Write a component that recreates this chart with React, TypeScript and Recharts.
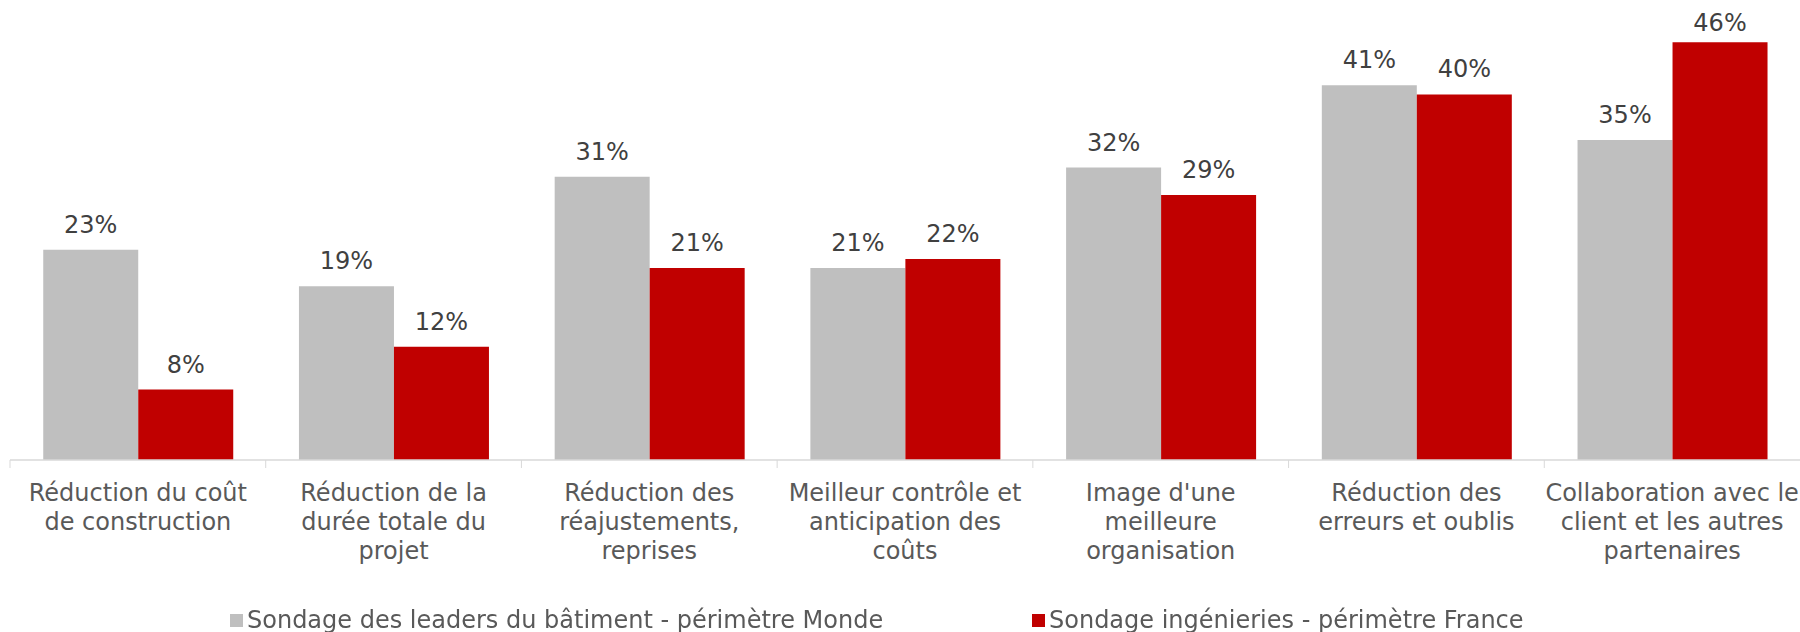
import React from 'react';
import { BarChart, Bar, XAxis, YAxis, Legend, LabelList } from 'recharts';

const categories = [
  'Réduction du coût\nde construction',
  'Réduction de la\ndurée totale du\nprojet',
  'Réduction des\nréajustements,\nreprises',
  'Meilleur contrôle et\nanticipation des\ncoûts',
  "Image d'une\nmeilleure\norganisation",
  'Réduction des\nerreurs et oublis',
  'Collaboration avec le\nclient et les autres\npartenaires',
];

const mondeValues = [23, 19, 31, 21, 32, 41, 35];
const franceValues = [7.7, 12.4, 21, 22, 29, 40, 45.7];

const seriesNames = [
  'Sondage des leaders du bâtiment - périmètre Monde',
  'Sondage ingénieries - périmètre France',
];

const data = categories.map((name, i) => ({
  name,
  monde: mondeValues[i],
  france: franceValues[i],
}));

const FONT = '"DejaVu Sans", Verdana, sans-serif';
const GRAY = '#bfbfbf';
const RED = '#c00000';
const AXIS = '#d9d9d9';

function CategoryTick(props: any) {
  const { x, y, payload } = props;
  const half = payload?.offset ?? 0;
  const lines = String(payload.value).split('\n');
  return (
    <g>
      <line x1={x - half} x2={x - half} y1={y} y2={y + 8} stroke={AXIS} strokeWidth={1} />
      <text x={x} y={y + 41} textAnchor="middle" fill="#595959" fontSize={24} fontFamily={FONT}>
        {lines.map((line, i) => (
          <tspan key={i} x={x} dy={i === 0 ? 0 : 29}>
            {line}
          </tspan>
        ))}
      </text>
    </g>
  );
}

// value label above the bar, kept inside the chart like Excel does
function ValueLabel(props: any) {
  const { x, y, width, value } = props;
  const baseline = Math.max(y - 17, 31);
  return (
    <text
      x={x + width / 2}
      y={baseline}
      textAnchor="middle"
      fill="#404040"
      fontSize={24}
      fontFamily={FONT}
    >
      {`${Math.round(Number(value))}%`}
    </text>
  );
}

function LegendContent() {
  const colors = [GRAY, RED];
  return (
    <div
      style={{
        display: 'flex',
        paddingTop: 4,
        paddingLeft: 230,
        fontFamily: FONT,
        fontSize: 24,
        color: '#595959',
        lineHeight: '28px',
      }}
    >
      {seriesNames.map((name, i) => (
        <div key={name} style={{ display: 'flex', alignItems: 'center', width: i === 0 ? 802 : 'auto' }}>
          <span style={{ width: 13, height: 13, background: colors[i], marginRight: 4, display: 'inline-block' }} />
          <span style={{ whiteSpace: 'nowrap' }}>{name}</span>
        </div>
      ))}
    </div>
  );
}

export default function App() {
  return (
    <div style={{ position: 'fixed', left: 0, top: 0, width: 1800, height: 632, background: '#fff' }}>
      <BarChart
        width={1800}
        height={632}
        data={data}
        margin={{ top: 3, right: 0, left: 10, bottom: 0 }}
        barCategoryGap="13%"
        barGap={0}
      >
        <XAxis
          dataKey="name"
          interval={0}
          height={142}
          tickSize={0}
          tickMargin={0}
          tickLine={false}
          axisLine={{ stroke: AXIS, strokeWidth: 1.5 }}
          tick={<CategoryTick />}
        />
        <YAxis hide domain={[0, 50]} />
        <Legend
          verticalAlign="bottom"
          height={30}
          wrapperStyle={{ left: 0, width: 1800 }}
          content={<LegendContent />}
        />
        <Bar dataKey="monde" name={seriesNames[0]} fill={GRAY} isAnimationActive={false}>
          <LabelList dataKey="monde" content={<ValueLabel />} />
        </Bar>
        <Bar dataKey="france" name={seriesNames[1]} fill={RED} isAnimationActive={false}>
          <LabelList dataKey="france" content={<ValueLabel />} />
        </Bar>
      </BarChart>
    </div>
  );
}
